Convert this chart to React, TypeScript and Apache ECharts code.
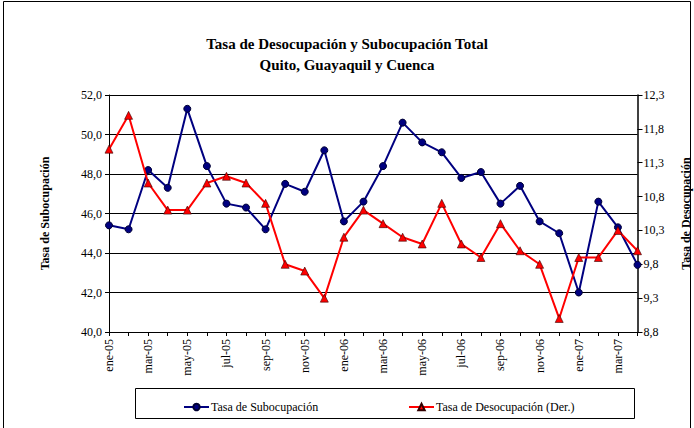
import React, { useEffect, useRef } from "react";
import * as echarts from "echarts";

const meses: string[] = [
  "ene-05", "feb-05", "mar-05", "abr-05", "may-05", "jun-05", "jul-05", "ago-05", "sep-05", "oct-05", "nov-05", "dic-05",
  "ene-06", "feb-06", "mar-06", "abr-06", "may-06", "jun-06", "jul-06", "ago-06", "sep-06", "oct-06", "nov-06", "dic-06",
  "ene-07", "feb-07", "mar-07", "abr-07",
];

const subocupacion: number[] = [
  45.4, 45.2, 48.2, 47.3, 51.3, 48.4, 46.5, 46.3, 45.2, 47.5, 47.1, 49.2,
  45.6, 46.6, 48.4, 50.6, 49.6, 49.1, 47.8, 48.1, 46.5, 47.4, 45.6, 45.0,
  42.0, 46.6, 45.3, 43.4,
];

const desocupacion: number[] = [
  11.5, 12.0, 11.0, 10.6, 10.6, 11.0, 11.1, 11.0, 10.7, 9.8, 9.7, 9.3,
  10.2, 10.6, 10.4, 10.2, 10.1, 10.7, 10.1, 9.9, 10.4, 10.0, 9.8, 9.0,
  9.9, 9.9, 10.3, 10.0,
];

const FONT = "Liberation Serif";

export default function App() {
  const ref = useRef<HTMLDivElement>(null);
  useEffect(() => {
    if (!ref.current) return;
    const chart = echarts.init(ref.current, undefined, { renderer: "svg" });
    const fmt = (v: number) => v.toFixed(1).replace(".", ",");
    chart.setOption({
      animation: false,
      backgroundColor: "#fff",
      textStyle: { fontFamily: FONT, color: "#000" },
      title: {
        text: "Tasa de Desocupación y Subocupación Total\nQuito, Guayaquil y Cuenca",
        left: "center",
        top: 28,
        textStyle: { fontFamily: FONT, fontSize: 15, fontWeight: "bold", color: "#000", lineHeight: 21 },
      },
      grid: { left: 109, right: 56.5, top: 95, bottom: 96, outerBoundsMode: "none" },
      legend: [
        {
          data: ["Tasa de Subocupación"],
          left: 178,
          top: 396,
          itemWidth: 25,
          itemHeight: 8,
          itemGap: 2,
          textStyle: { fontFamily: FONT, fontSize: 12, color: "#000", padding: [0, 0, 0, -3] },
        },
        {
          data: ["Tasa de Desocupación (Der.)"],
          left: 403,
          top: 396,
          itemWidth: 25,
          itemHeight: 8,
          textStyle: { fontFamily: FONT, fontSize: 12, color: "#000", padding: [0, 0, 0, -3] },
        },
      ],
      xAxis: {
        type: "category",
        data: meses,
        boundaryGap: false,
        axisLine: { lineStyle: { color: "#000", width: 1 } },
        axisTick: { show: true, interval: 0, length: 4, lineStyle: { color: "#000" } },
        axisLabel: { interval: 1, rotate: 90, fontFamily: FONT, fontSize: 12, color: "#000", margin: 7 },
        splitLine: { show: false },
      },
      yAxis: [
        {
          type: "value",
          min: 40,
          max: 52,
          interval: 2,
          position: "left",
          name: "Tasa de Subocupación",
          nameLocation: "middle",
          nameGap: 58,
          nameRotate: 90,
          nameTextStyle: { fontFamily: FONT, fontSize: 12, fontWeight: "bold", color: "#000" },
          axisLine: { show: true, lineStyle: { color: "#000", width: 1 } },
          axisTick: { show: true, length: 4, lineStyle: { color: "#000" } },
          axisLabel: { formatter: fmt, fontFamily: FONT, fontSize: 12, color: "#000", margin: 7 },
          splitLine: { show: true, lineStyle: { color: "#000", width: 1 } },
        },
        {
          type: "value",
          min: 8.8,
          max: 12.3,
          interval: 0.5,
          position: "right",
          name: "Tasa de Desocupación",
          nameLocation: "middle",
          nameGap: 42,
          nameRotate: 90,
          nameTextStyle: { fontFamily: FONT, fontSize: 12, fontWeight: "bold", color: "#000" },
          axisLine: { show: true, lineStyle: { color: "#000", width: 1.5 } },
          axisTick: { show: true, length: 5, lineStyle: { color: "#000" } },
          axisLabel: { formatter: fmt, fontFamily: FONT, fontSize: 12, color: "#000", margin: 6 },
          splitLine: { show: false },
        },
      ],
      graphic: [
        {
          type: "rect",
          shape: { x: 3.5, y: 1.5, width: 687, height: 440 },
          style: { fill: "none", stroke: "#000", lineWidth: 1 },
          silent: true,
          z: -1,
        },
        {
          type: "rect",
          shape: { x: 135.5, y: 388.5, width: 499, height: 30 },
          style: { fill: "none", stroke: "#000", lineWidth: 1 },
          silent: true,
        },
      ],
      series: [
        {
          name: "Tasa de Subocupación",
          type: "line",
          yAxisIndex: 0,
          data: subocupacion,
          symbol: "circle",
          symbolSize: 7,
          lineStyle: { color: "#000080", width: 2 },
          itemStyle: { color: "#000080", borderColor: "#000033", borderWidth: 1 },
          z: 3,
        },
        {
          name: "Tasa de Desocupación (Der.)",
          type: "line",
          yAxisIndex: 1,
          data: desocupacion,
          symbol: "triangle",
          symbolSize: 8,
          lineStyle: { color: "#ff0000", width: 2 },
          itemStyle: { color: "#ff0000", borderColor: "#330000", borderWidth: 0.6 },
          z: 4,
        },
      ],
    });
    return () => chart.dispose();
  }, []);
  return (
    <div
      ref={ref}
      style={{ position: "fixed", left: 0, top: 0, width: 694, height: 428 }}
    />
  );
}
